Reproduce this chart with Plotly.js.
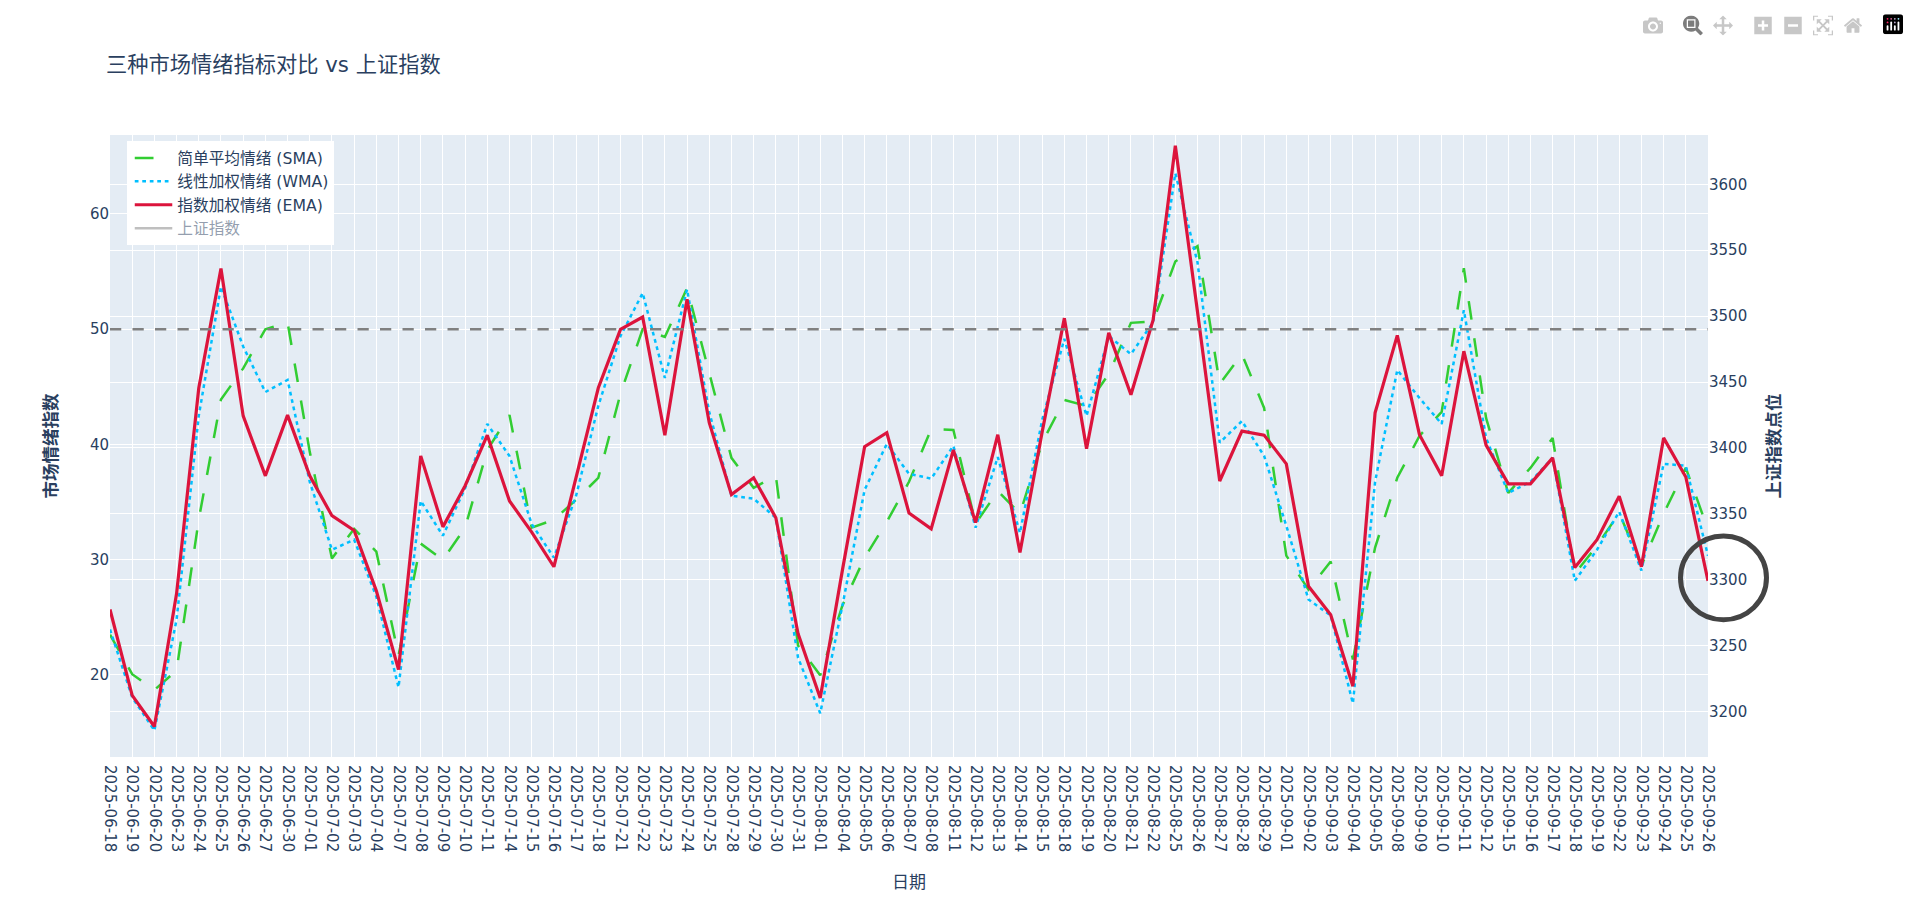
<!DOCTYPE html>
<html>
<head>
<meta charset="utf-8">
<script src="https://cdn.plot.ly/plotly-3.0.1.min.js"></script>
<style>
html,body{margin:0;padding:0;background:#fff;}
#chart{width:1920px;height:910px;}
.modebar-container .modebar{transform:translate(-10px,8.5px) scale(1.25);transform-origin:top right;}
</style>
</head>
<body>
<div id="chart"></div>
<script>
const dates = ["2025-06-18","2025-06-19","2025-06-20","2025-06-23","2025-06-24","2025-06-25","2025-06-26","2025-06-27","2025-06-30",
"2025-07-01","2025-07-02","2025-07-03","2025-07-04","2025-07-07","2025-07-08","2025-07-09","2025-07-10","2025-07-11","2025-07-14","2025-07-15","2025-07-16","2025-07-17","2025-07-18","2025-07-21","2025-07-22","2025-07-23","2025-07-24","2025-07-25","2025-07-28","2025-07-29","2025-07-30","2025-07-31",
"2025-08-01","2025-08-04","2025-08-05","2025-08-06","2025-08-07","2025-08-08","2025-08-11","2025-08-12","2025-08-13","2025-08-14","2025-08-15","2025-08-18","2025-08-19","2025-08-20","2025-08-21","2025-08-22","2025-08-25","2025-08-26","2025-08-27","2025-08-28","2025-08-29",
"2025-09-01","2025-09-02","2025-09-03","2025-09-04","2025-09-05","2025-09-08","2025-09-09","2025-09-10","2025-09-11","2025-09-12","2025-09-15","2025-09-16","2025-09-17","2025-09-18","2025-09-19","2025-09-22","2025-09-23","2025-09-24","2025-09-25","2025-09-26"];

const smaValues = [23.5,20.07,18.7,20.4,33.5,43.9,46.6,50,50.6,39.36,30.11,32.68,30.7,21.7,31.4,30,32.78,39.53,42.55,32.78,33.47,35.2,37.1,44.4,50,49.33,53.56,46.11,38.84,36.24,37.28,22.56,19.97,26.03,30.18,33.3,36.76,41.33,41.26,33.13,35.96,33.99,40.16,43.86,43.34,46.11,50.55,50.68,55.88,57.2,45.25,47.84,43.17,30.36,27.41,29.84,21.35,31.05,37.11,40.74,42.82,55.29,42.3,35.79,37.97,40.57,28.8,31.22,34.06,29.49,33.99,37.97,32.61];

const wmaValues = [23.95,18.06,15.19,24.8,42.5,53.7,48.5,44.55,45.6,36.76,30.87,31.74,26.8,18.93,35.1,32.09,36.2,41.78,39,33.1,30.18,35.55,43.34,49.4,53.14,45.77,53.45,42.82,35.55,35.3,33.64,21.5,16.68,26,36.07,40.05,37.45,37.04,39.88,32.78,38.91,32.33,42.13,49.16,42.48,49.4,47.84,50.6,63.53,55.8,40.16,42.03,39.01,32.95,26.55,25.16,17.54,36.76,46.46,44.03,41.78,51.65,40.57,35.79,36.76,38.84,28.17,30.87,34.16,29.07,38.32,38.15,30.35];

const emaValues = [25.68,18.23,15.53,27.06,44.9,55.26,42.48,37.28,42.55,37.28,33.82,32.54,27.3,20.48,39.01,32.85,36.42,40.81,35.1,32.4,29.39,37.11,44.9,49.99,51.06,40.81,52.59,41.89,35.65,37.11,33.64,23.6,18,29.1,39.81,41.02,34.06,32.68,39.53,33.23,40.85,30.63,41.09,50.96,39.64,49.68,44.31,50.8,65.92,51.5,36.83,41.16,40.81,38.32,27.69,25.23,19.03,42.75,49.47,40.85,37.28,48.09,39.95,36.59,36.59,38.84,29.32,31.74,35.52,29.39,40.57,37.18,28.17];

// Hidden in the reference (legend-only): only the ends of its axis can be estimated.
const indexDates = ["2025-06-18","2025-09-26"];
const indexValues = [3190,3300];

const legendNames = ["简单平均情绪 (SMA)","线性加权情绪 (WMA)","指数加权情绪 (EMA)","上证指数"];
const chartTitle = "三种市场情绪指标对比 vs 上证指数";
const leftTitle = "市场情绪指数", rightTitle = "上证指数点位", bottomTitle = "日期";

const fam = '"DejaVu Sans","Noto Sans CJK SC",sans-serif';
const ink = "#2a3f5f";

const traces = [
 {x:dates,y:smaValues,name:legendNames[0],mode:"lines",type:"scatter",line:{color:"#32CD32",width:2.5,dash:"18.75px,18.75px"}},
 {x:dates,y:wmaValues,name:legendNames[1],mode:"lines",type:"scatter",line:{color:"#00BFFF",width:2.5,dash:"3.75px,3.75px"}},
 {x:dates,y:emaValues,name:legendNames[2],mode:"lines",type:"scatter",line:{color:"#DC143C",width:3.2}},
 {x:indexDates,y:indexValues,name:legendNames[3],mode:"lines",type:"scatter",yaxis:"y2",visible:"legendonly",line:{color:"#808080",width:2.5}}
];

const layout = {
 width:1920,height:910,autosize:false,
 paper_bgcolor:"#fff",plot_bgcolor:"#E4ECF4",
 font:{family:fam,size:15,color:ink},
 margin:{l:110,r:212,t:135,b:153,pad:0},
 title:{text:chartTitle,x:106/1920,xanchor:"left",xref:"container",y:1-65/910,yanchor:"middle",yref:"container",font:{size:21.25,color:ink,family:fam}},
 showlegend:true,
 legend:{x:0.0108,y:0.99,xanchor:"left",yanchor:"top",bgcolor:"#fff",itemwidth:37.5,indentation:2.5,font:{size:15.7,color:ink,family:fam}},
 xaxis:{type:"category",range:[0,72],dtick:1,tickangle:90,ticklabelstandoff:7,showgrid:true,gridcolor:"#fff",gridwidth:1.25,zeroline:false,showline:false,ticks:"",automargin:false,
   title:{text:bottomTitle,font:{size:17,color:ink,family:fam},standoff:24}},
 yaxis:{range:[12.885,66.85],tick0:20,dtick:10,showgrid:true,gridcolor:"#fff",gridwidth:1.25,zeroline:false,ticks:"",automargin:false,
   title:{text:"<b>"+leftTitle+"</b>",font:{size:17.5,color:ink,family:fam},standoff:27}},
 yaxis2:{overlaying:"y",side:"right",range:[3165.6,3637.4],tick0:3200,dtick:50,showgrid:true,gridcolor:"#fff",gridwidth:1.25,zeroline:false,ticks:"",automargin:false,
   title:{text:"<b>"+rightTitle+"</b>",font:{size:17.5,color:ink,family:fam},standoff:21}},
 shapes:[
  {type:"line",xref:"paper",x0:0,x1:1,yref:"y",y0:50,y1:50,line:{color:"gray",width:2.5,dash:"11.25px,11.25px"}},
  {type:"circle",xref:"paper",yref:"paper",x0:0.9828,x1:1.0366,y0:0.2207,y1:0.3553,line:{color:"#444",width:5},fillcolor:"rgba(0,0,0,0)"}
 ]
};

Plotly.newPlot("chart",traces,layout,{displayModeBar:true,responsive:false});
</script>
</body>
</html>
